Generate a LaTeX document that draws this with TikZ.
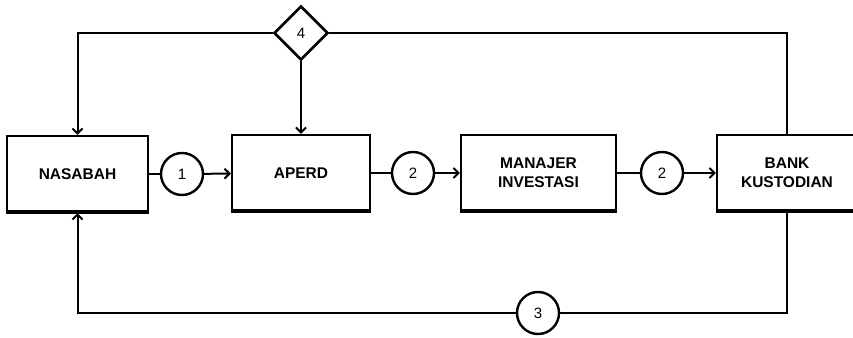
\documentclass[tikz,border=0pt]{standalone}
\usepackage{fontspec}
\setmainfont{Liberation Sans}
\usetikzlibrary{arrows.meta,shapes.geometric}
\begin{document}
\begin{tikzpicture}[x=1pt,y=1pt,line width=2pt,>={Straight Barb[length=5pt,width=10pt]},
        box/.style={draw,line width=2.2pt,minimum height=76pt,align=center,font=\fontsize{15.5}{19}\selectfont\bfseries},
        num/.style={draw,circle,line width=2.4pt,minimum size=42pt,inner sep=0pt,fill=white,font=\fontsize{15}{16}\selectfont}]
        \useasboundingbox (0,0) rectangle (853,337);
        \node[box,minimum width=141pt] (nasabah) at (77.5,163) {NASABAH};
        \node[box,minimum width=138pt] (aperd) at (301,164) {APERD};
        \node[box,minimum width=155pt] (manajer) at (538.5,164) {MANAJER\\INVESTASI};
        \node[box,minimum width=140pt] (bank) at (787,164) {BANK\\KUSTODIAN};
        \foreach \b in {nasabah,aperd,manajer,bank}
            \draw[line width=4pt] ([yshift=0.8pt]\b.south west) -- ([yshift=0.8pt]\b.south east);
        \node[num] (c1) at (182,163) {1};
        \node[num] (c2) at (413,164) {2};
        \node[num] (c2b) at (662,164) {2};
        \node[num] (c3) at (538,24) {3};
        \node[draw,diamond,aspect=1,line width=2.6pt,minimum width=54pt,minimum height=54pt,inner sep=0pt,fill=white,font=\fontsize{15}{16}\selectfont] (d4) at (301,304) {4};
        \draw (nasabah) -- (c1);
        \draw[->] (c1) -- (aperd);
        \draw (aperd) -- (c2);
        \draw[->] (c2) -- (manajer);
        \draw (manajer) -- (c2b);
        \draw[->] (c2b) -- (bank);
        \draw[->] (d4.west) -| (nasabah.north);
        \draw[->] (d4.south) -- (aperd.north);
        \draw (d4.east) -| (bank.north);
        \draw (bank.south) |- (c3.east);
        \draw[->] (c3.west) -| (nasabah.south);
    \end{tikzpicture}
\end{document}
